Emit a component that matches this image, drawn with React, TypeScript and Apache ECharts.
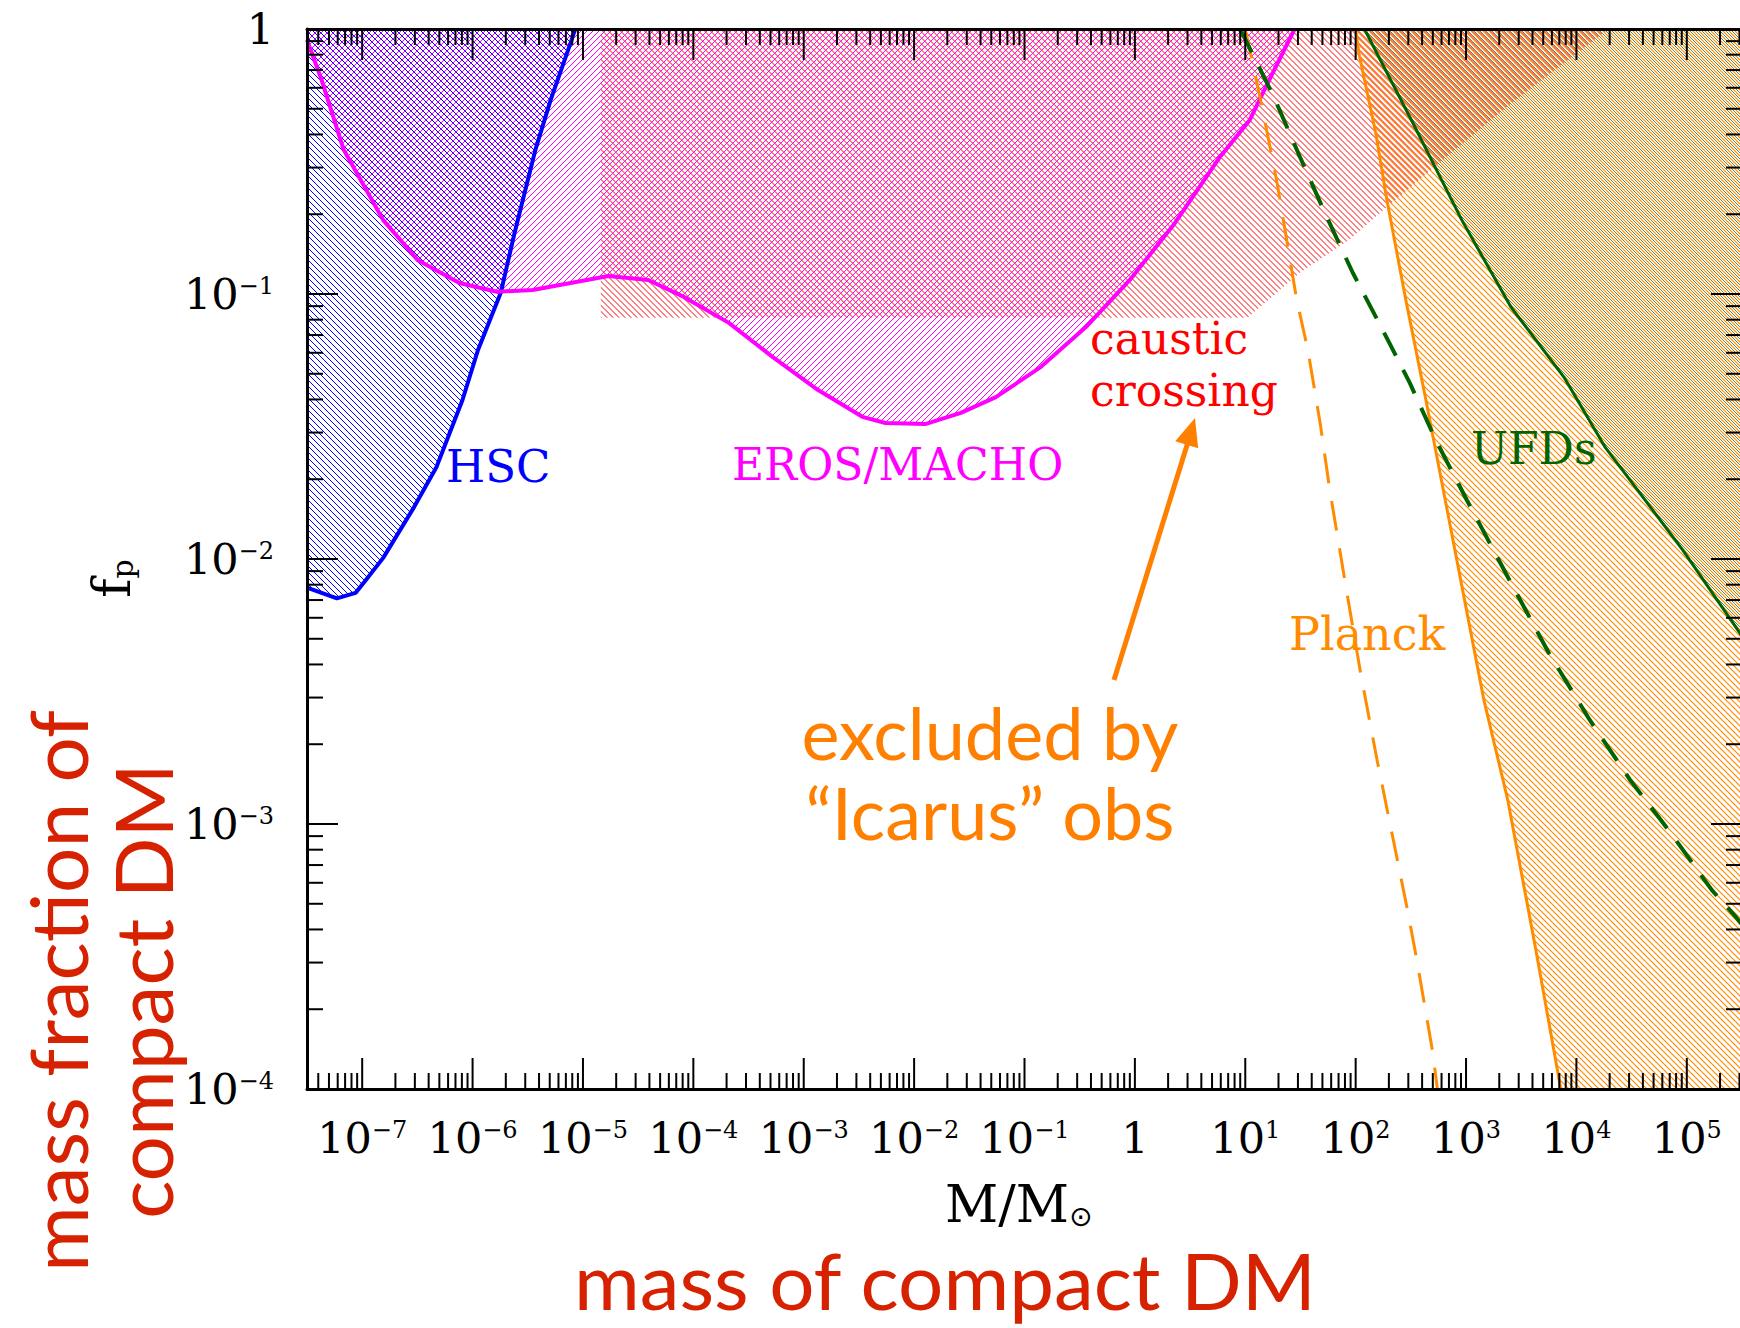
import React, { useEffect, useRef } from "react";
import * as echarts from "echarts";

type Pt = [number, number];

const X_MIN = 3.1623e-8; // 10^-7.5
const X_MAX = 316228; // 10^5.5
const Y_MIN = 1e-4;
const Y_MAX = 1;

const xTickValues = [1e-7, 1e-6, 1e-5, 1e-4, 1e-3, 1e-2, 1e-1, 1, 1e1, 1e2, 1e3, 1e4, 1e5];
const xTickLabels = ["10^−7", "10^−6", "10^−5", "10^−4", "10^−3", "10^−2", "10^−1", "1", "10^1", "10^2", "10^3", "10^4", "10^5"];
const yTickValues = [1, 1e-1, 1e-2, 1e-3, 1e-4];
const yTickLabels = ["1", "10^−1", "10^−2", "10^−3", "10^−4"];
const minorMantissas = [2, 3, 4, 5, 6, 7, 8, 9];
const xDecades = [1e-8, 1e-7, 1e-6, 1e-5, 1e-4, 1e-3, 1e-2, 1e-1, 1, 1e1, 1e2, 1e3, 1e4, 1e5];
const yDecades = [1e-4, 1e-3, 1e-2, 1e-1];

// HSC lower boundary (region above it is excluded)
const hscCurve: Pt[] = [
  [X_MIN, 7.8e-3], [5.9e-8, 7.1e-3], [8.7e-8, 7.45e-3], [1.05e-7, 8.2e-3], [1.55e-7, 1.01e-2],
  [2.95e-7, 1.57e-2], [4.7e-7, 2.22e-2], [8.1e-7, 3.98e-2], [1.12e-6, 6.15e-2], [1.8e-6, 0.101],
  [2.4e-6, 0.17], [3.7e-6, 0.349], [5.1e-6, 0.54], [7.9e-6, 0.91], [8.5e-6, 1.0],
];

// EROS/MACHO boundary
const erosCurve: Pt[] = [
  [X_MIN, 0.91], [4.3e-8, 0.64], [6.8e-8, 0.35], [1.55e-7, 0.19], [3.2e-7, 0.134], [7.6e-7, 0.11],
  [1.66e-6, 0.102], [3.5e-6, 0.1035], [1.7e-5, 0.117], [3.9e-5, 0.113], [8.2e-5, 0.0975],
  [2.1e-4, 0.0778], [5.25e-4, 0.0578], [1.35e-3, 0.0434], [3.4e-3, 0.0344], [5.5e-3, 0.0326],
  [1.26e-2, 0.0323], [2.65e-2, 0.0356], [5.5e-2, 0.0408], [0.141, 0.0531], [0.36, 0.075],
  [0.9, 0.113], [2.3, 0.185], [5.9, 0.329], [11, 0.454], [14.4, 0.573], [28, 1.0],
];

// caustic crossing boundary
const causticCurve: Pt[] = [
  [1.45e-5, 0.0813], [10.5, 0.0813], [31, 0.12], [87, 0.16], [192, 0.213], [617, 0.321],
  [2340, 0.508], [7700, 0.745], [19600, 1.0],
];

// Planck (solid / dashed)
const planckSolid: Pt[] = [
  [100, 1.0], [107, 0.81], [152, 0.405], [192, 0.226], [285, 0.0948], [433, 0.0398], [793, 0.0108],
  [1450, 2.94e-3], [2390, 1.23e-3], [4290, 3.35e-4], [6800, 1.15e-4], [7200, 1e-4],
];
const planckDashed: Pt[] = [
  [10, 1.0], [14.4, 0.494], [19.7, 0.254], [24.8, 0.143], [29.3, 0.0948], [36.9, 0.0615], [48, 0.032],
  [58.3, 0.0182], [79.8, 8.3e-3], [111, 3.7e-3], [156, 1.75e-3], [222, 8.5e-4], [297, 4.66e-4],
  [358, 3.07e-4], [424, 2.04e-4], [500, 1.37e-4], [550, 1e-4],
];

// UFDs (solid / dashed)
const ufdSolid: Pt[] = [
  [120, 1.0], [330, 0.442], [916, 0.19], [2550, 0.0893], [7700, 0.0486], [18100, 0.0265],
  [30500, 0.0199], [92000, 0.0108], [302000, 5.26e-3], [X_MAX, 5.1e-3],
];
const ufdDashed: Pt[] = [
  [9, 1.0], [13.3, 0.72], [18.2, 0.553], [31.3, 0.329], [54.8, 0.195], [94.4, 0.12], [176, 0.0731],
  [310, 0.0461], [532, 0.0281], [1016, 0.0167], [2390, 8.55e-3], [5620, 4.42e-3], [13200, 2.47e-3],
  [30500, 1.47e-3], [71600, 9.25e-4], [168000, 5.64e-4], [278000, 4.46e-4], [X_MAX, 4.17e-4],
];

const SERIF = "'DejaVu Serif', 'Liberation Serif', serif";
const SANS = "Lato, 'Open Sans', sans-serif";
const BLUE = "#0000ff";
const MAGENTA = "#ff00ff";
const RED = "#ff0000";
const ORANGE = "#ff8c00";
const GREEN = "#006400";
const UFD_HATCH = "#3d6a12";
const BIG_ORANGE = "#ff8000";
const BIG_RED = "#d62200";

function hatch(color: string, dir: number, offset: number, lw: number, size = 6) {
  const c = document.createElement("canvas");
  c.width = size;
  c.height = size;
  const g = c.getContext("2d")!;
  g.strokeStyle = color;
  g.lineWidth = lw;
  for (let k = -2; k <= 2; k++) {
    g.beginPath();
    if (dir > 0) {
      g.moveTo(k * size + offset - 2, -2);
      g.lineTo(k * size + offset + size + 2, size + 2);
    } else {
      g.moveTo(k * size + offset - 2, size + 2);
      g.lineTo(k * size + offset + size + 2, -2);
    }
    g.stroke();
  }
  return { image: c.toDataURL(), repeat: "repeat", imageWidth: size, imageHeight: size };
}

function polySeries(name: string, pts: Pt[], fill: any, z: number) {
  return {
    type: "custom",
    name,
    coordinateSystem: "cartesian2d",
    clip: true,
    silent: true,
    z,
    data: [pts[0]],
    renderItem: (_p: any, api: any) => ({
      type: "polygon",
      shape: { points: pts.map((p) => api.coord(p)) },
      style: { fill, stroke: null },
    }),
  };
}

function lineSeries(name: string, pts: Pt[], color: string, width: number, dash?: number[]) {
  return {
    type: "line",
    name,
    data: pts,
    showSymbol: false,
    symbol: "none",
    silent: true,
    clip: true,
    z: 4,
    lineStyle: { color, width, type: dash ? dash : "solid", cap: "butt" },
    itemStyle: { color },
  };
}

function richOf(label: string) {
  const parts = label.split("^");
  return parts.length > 1 ? `{a|${parts[0]}}{b|${parts[1]}}` : `{a|${parts[0]}}`;
}

const tickRich = {
  a: { fontFamily: SERIF, fontSize: 43, lineHeight: 40, fill: "#000" },
  b: { fontFamily: SERIF, fontSize: 24, lineHeight: 24, verticalAlign: "top", fill: "#000" },
};

// main glyph + lowered subscript in one rich text
function subRich(mainSize: number, subSize: number, subFamily: string, padBottom: number) {
  return {
    m: { fontFamily: SERIF, fontSize: mainSize, lineHeight: mainSize, verticalAlign: "top", padding: [0, 0, padBottom, 0], fill: "#000" },
    s: { fontFamily: subFamily, fontSize: subSize, lineHeight: subSize, verticalAlign: "bottom", fill: "#000" },
  };
}

function label(text: string, x: number, y: number, size: number, fill: string, family = SERIF, extra: any = {}, lh?: number) {
  const { align, ...rest } = extra;
  return {
    type: "text",
    x,
    y,
    z: 20,
    ...rest,
    style: {
      text,
      fontFamily: family,
      fontSize: size,
      lineHeight: lh || Math.round(size * 0.9),
      fill,
      align: align || "left",
      verticalAlign: "middle",
    },
  };
}

export default function App() {
  const ref = useRef<HTMLDivElement>(null);

  useEffect(() => {
    document.body.style.margin = "0";
    const chart = echarts.init(ref.current!, null, { renderer: "svg" });

    const tickData: number[][] = [];
    xTickValues.forEach((v) => tickData.push([v, 1, 0]));
    xDecades.forEach((d) =>
      minorMantissas.forEach((m) => {
        const v = m * d;
        if (v > X_MIN && v < X_MAX) tickData.push([v, 1, 1]);
      })
    );
    yTickValues.forEach((v) => tickData.push([1, v, 2]));
    yDecades.forEach((d) => minorMantissas.forEach((m) => tickData.push([1, m * d, 3])));

    const labelData: number[][] = [];
    xTickValues.forEach((v, i) => labelData.push([v, 1, 0, i]));
    yTickValues.forEach((v, i) => labelData.push([1, v, 1, i]));

    const planckPoly: Pt[] = [...planckSolid, [X_MAX, Y_MIN], [X_MAX, Y_MAX]];
    const ufdPoly: Pt[] = [...ufdSolid, [X_MAX, Y_MAX]];
    const causticPoly: Pt[] = [...causticCurve, [causticCurve[0][0], Y_MAX]];
    const erosPoly: Pt[] = [[X_MIN, Y_MAX], ...erosCurve];
    const hscPoly: Pt[] = [[X_MIN, Y_MAX], ...hscCurve];

    const axisBase = {
      type: "log",
      logBase: 10,
      min: X_MIN,
      max: X_MAX,
      axisLine: { show: true, lineStyle: { color: "#000", width: 3 } },
      axisTick: { show: false },
      axisLabel: { show: false },
      splitLine: { show: false },
      minorTick: { show: false },
      z: 6,
    };

    const option: any = {
      animation: false,
      backgroundColor: "#ffffff",
      grid: { left: 307, top: 29, width: 1435, height: 1060, outerBoundsMode: "none", containLabel: false },
      xAxis: [
        { ...axisBase, position: "bottom" },
        { ...axisBase, position: "top" },
      ],
      yAxis: [
        { ...axisBase, min: Y_MIN, max: Y_MAX, position: "left" },
        { ...axisBase, min: Y_MIN, max: Y_MAX, position: "right" },
      ],
      series: [
        polySeries("Planck region", planckPoly, hatch(ORANGE, 1, 0, 1.2), 1),
        polySeries("UFD region", ufdPoly, hatch(UFD_HATCH, 1, 3, 0.8), 1),
        polySeries("caustic region", causticPoly, hatch(RED, 1, 1.5, 1.0), 1),
        polySeries("EROS region", erosPoly, hatch(MAGENTA, -1, 0, 1.0), 1),
        polySeries("HSC region", hscPoly, hatch(BLUE, 1, 0, 1.0), 1),
        lineSeries("HSC", hscCurve, BLUE, 4),
        lineSeries("EROS/MACHO", erosCurve, MAGENTA, 4),
        lineSeries("Planck", planckSolid, ORANGE, 3),
        lineSeries("Planck dashed", planckDashed, ORANGE, 3, [30, 18]),
        lineSeries("UFDs", ufdSolid, GREEN, 3),
        lineSeries("UFDs dashed", ufdDashed, GREEN, 4, [26, 16]),
        {
          type: "custom",
          name: "ticks",
          coordinateSystem: "cartesian2d",
          clip: false,
          silent: true,
          z: 8,
          encode: { x: 0, y: 1 },
          data: tickData,
          renderItem: (_p: any, api: any) => {
            const kind = api.value(2);
            const len = kind % 2 === 0 ? 31 : 16;
            const style = { stroke: "#000", lineWidth: 2 };
            if (kind < 2) {
              const v = api.value(0);
              const b = api.coord([v, Y_MIN]);
              const t = api.coord([v, Y_MAX]);
              return {
                type: "group",
                children: [
                  { type: "line", shape: { x1: b[0], y1: b[1], x2: b[0], y2: b[1] - len }, style },
                  { type: "line", shape: { x1: t[0], y1: t[1], x2: t[0], y2: t[1] + len }, style },
                ],
              };
            }
            const v = api.value(1);
            const l = api.coord([X_MIN, v]);
            const r = api.coord([X_MAX, v]);
            return {
              type: "group",
              children: [
                { type: "line", shape: { x1: l[0], y1: l[1], x2: l[0] + len, y2: l[1] }, style },
                { type: "line", shape: { x1: r[0], y1: r[1], x2: r[0] - len, y2: r[1] }, style },
              ],
            };
          },
        },
        {
          type: "custom",
          name: "tick labels",
          coordinateSystem: "cartesian2d",
          clip: false,
          silent: true,
          z: 8,
          encode: { x: 0, y: 1 },
          data: labelData,
          renderItem: (_p: any, api: any) => {
            const axis = api.value(2);
            const i = api.value(3);
            if (axis === 0) {
              const p = api.coord([api.value(0), Y_MIN]);
              return {
                type: "text",
                x: p[0],
                y: p[1] + 29,
                style: { text: richOf(xTickLabels[i]), rich: tickRich, align: "center", verticalAlign: "top", fill: "#000" },
              };
            }
            const p = api.coord([X_MIN, api.value(1)]);
            return {
              type: "text",
              x: p[0] - 33,
              y: p[1],
              style: { text: richOf(yTickLabels[i]), rich: tickRich, align: "right", verticalAlign: "middle", fill: "#000" },
            };
          },
        },
      ],
      graphic: [
        label("HSC", 446, 466, 45, BLUE),
        label("EROS/MACHO", 732, 464, 44, MAGENTA),
        label("caustic\ncrossing", 1090, 364, 44, RED, SERIF, {}, 52),
        label("Planck", 1289, 634, 46, ORANGE),
        label("UFDs", 1471, 448, 44, GREEN),
        {
          type: "text",
          x: 111.5,
          y: 578.5,
          rotation: Math.PI / 2,
          z: 20,
          style: { text: "{m|f}{s|p}", rich: subRich(52, 30, SERIF, 11), align: "center", verticalAlign: "middle", fill: "#000" },
        },
        {
          type: "text",
          x: 945,
          y: 1204,
          z: 20,
          style: { text: "{m|M/M}{s|⊙}", rich: subRich(52, 28, "'DejaVu Sans', sans-serif", 7), align: "left", verticalAlign: "middle", fill: "#000" },
        },
        label("excluded by\n\u201cIcarus\u201d obs", 990, 772, 72, BIG_ORANGE, SANS, { align: "center" }, 80),
        { type: "line", z: 20, shape: { x1: 1114, y1: 680, x2: 1188, y2: 442 }, style: { stroke: BIG_ORANGE, lineWidth: 5 } },
        { type: "polygon", z: 20, shape: { points: [[1195, 418], [1198.2, 448.2], [1175.2, 441.2]] }, style: { fill: BIG_ORANGE } },
        label("mass of compact DM", 945, 1280, 78, BIG_RED, SANS, { align: "center", scaleX: 1.025 }),
        label("mass fraction of\ncompact DM", 99.5, 991, 80, BIG_RED, SANS, { rotation: Math.PI / 2, align: "center" }, 85),
      ],
    };

    chart.setOption(option);
    return () => chart.dispose();
  }, []);

  return <div ref={ref} style={{ width: 1740, height: 1328, position: "absolute", left: 0, top: 0 }} />;
}
